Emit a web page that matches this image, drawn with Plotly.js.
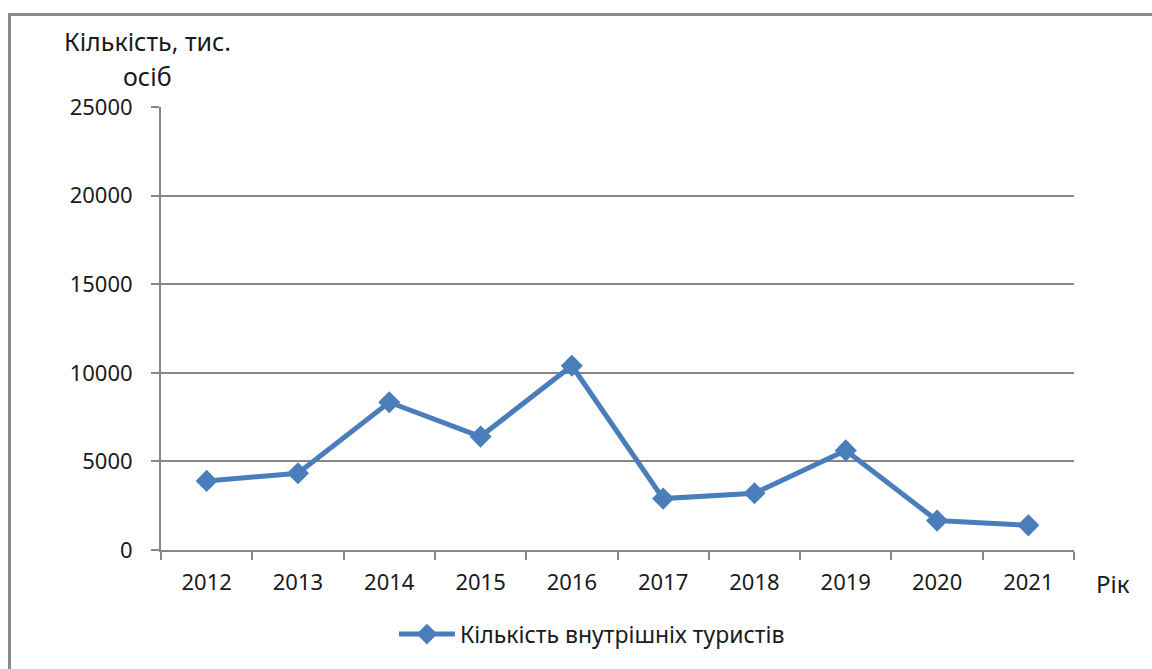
<!DOCTYPE html>
<html>
<head>
<meta charset="utf-8">
<script src="https://cdn.plot.ly/plotly-3.0.1.min.js"></script>
<style>
  html, body { margin: 0; padding: 0; background: #fff; }
  #wrap { position: relative; width: 1152px; height: 669px; overflow: hidden; }
  #chart { position: absolute; left: 0; top: 0; width: 1152px; height: 669px; }
  #frame { position: absolute; left: 8px; top: 13px; width: 1200px; height: 700px;
           border-top: 3px solid #8a8a8a; border-left: 3px solid #8a8a8a; pointer-events: none; }
</style>
</head>
<body>
<div id="wrap">
  <div id="chart"></div>
  <div id="frame"></div>
</div>
<script>
const years = ['2012','2013','2014','2015','2016','2017','2018','2019','2020','2021'];
const tourists = [3900, 4330, 8340, 6400, 10400, 2900, 3200, 5620, 1660, 1390];
const seriesName = 'Кількість внутрішніх туристів';
const yTitleLine1 = 'Кількість, тис.';
const yTitleLine2 = 'осіб';
const xTitle = 'Рік';

const FONT = 'Noto Sans, Open Sans, sans-serif';
const AXIS = '#868686';
const TXT = '#1a1a1a';

const trace = {
  x: years, y: tourists, type: 'scatter', mode: 'lines+markers',
  name: seriesName,
  line: { color: '#4A7EBB', width: 5 },
  marker: { symbol: 'diamond', size: 17, color: '#4A7EBB' }
};

const layout = {
  width: 1152, height: 669,
  margin: { l: 161, r: 78, t: 107, b: 119 },
  paper_bgcolor: '#fff', plot_bgcolor: '#fff',
  font: { family: FONT, size: 22, color: TXT },
  showlegend: true,
  legend: { orientation: 'h', x: 0.472, xanchor: 'center', y: -0.19, yanchor: 'middle',
            font: { family: FONT, size: 23, color: TXT }, itemwidth: 56 },
  xaxis: {
    type: 'category', tickson: 'boundaries', ticks: 'outside', ticklen: 8, tickwidth: 2,
    tickcolor: AXIS, showline: true, linecolor: AXIS, linewidth: 2, showgrid: false,
    zeroline: false, tickfont: { family: FONT, size: 22, color: TXT },
    ticklabelstandoff: 12, range: [-0.5, 9.5]
  },
  yaxis: {
    range: [0, 25000], dtick: 5000, tickformat: 'd', ticks: 'outside', ticklen: 8, tickwidth: 2,
    tickcolor: AXIS, showline: true, linecolor: AXIS, linewidth: 2,
    showgrid: true, gridcolor: AXIS, gridwidth: 2, zeroline: false,
    tickfont: { family: FONT, size: 22, color: TXT }, ticklabelstandoff: 14
  },
  annotations: [
    { text: yTitleLine1, xref: 'paper', yref: 'paper', x: -0.015, y: 1.15, xanchor: 'center', yanchor: 'middle',
      showarrow: false, font: { family: FONT, size: 25, color: TXT } },
    { text: yTitleLine2, xref: 'paper', yref: 'paper', x: -0.015, y: 1.07, xanchor: 'center', yanchor: 'middle',
      showarrow: false, font: { family: FONT, size: 25, color: TXT } },
    { text: xTitle, xref: 'paper', yref: 'paper', x: 1.022, y: -0.075, xanchor: 'left', yanchor: 'middle',
      showarrow: false, font: { family: FONT, size: 24, color: TXT } }
  ]
};

Plotly.newPlot('chart', [trace], layout, { displayModeBar: false, staticPlot: true });
</script>
</body>
</html>
